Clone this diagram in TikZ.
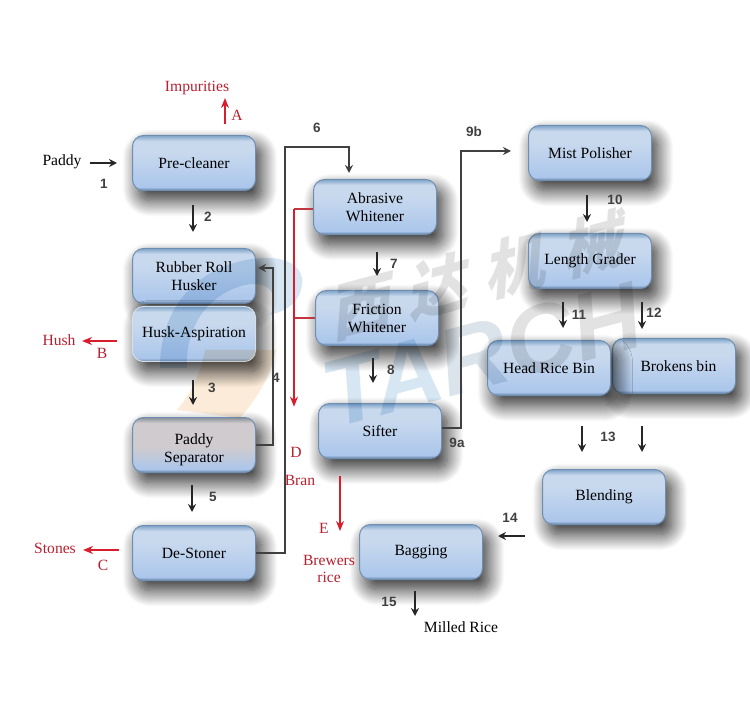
\documentclass[tikz,border=0pt]{standalone}
\usepackage{fontspec}
\setmainfont{Liberation Serif}
\newfontfamily\numfont{Liberation Sans}
\newfontfamily\cjkfont{Noto Sans CJK SC}
\usepackage{xcolor}
\usetikzlibrary{arrows.meta, calc, shadows.blur}
\definecolor{boxedge}{HTML}{6F8FB2}
\definecolor{boxrim}{HTML}{7FA3C8}
\definecolor{boxfoot}{HTML}{5E7D9E}
\definecolor{boxhigh}{HTML}{C8D9EE}
\definecolor{boxlow}{HTML}{ABC6EB}
\definecolor{sephigh}{HTML}{CFCBCF}
\definecolor{seprim}{HTML}{8A9098}
\definecolor{ricered}{HTML}{B5202F}
\definecolor{arrowred}{HTML}{D81E2C}
\definecolor{logoblue}{HTML}{D6E6F3}
\definecolor{logopeach}{HTML}{FBEBD8}
\definecolor{markgray}{HTML}{E2E2E2}
\pgfdeclareverticalshading{stagefill}{100bp}{color(0bp)=(boxfoot); color(25bp)=(boxfoot);
  color(28bp)=(boxlow); color(60bp)=(boxhigh); color(70bp)=(boxhigh); color(75bp)=(boxrim); color(100bp)=(boxrim)}
\pgfdeclareverticalshading{sepfill}{100bp}{color(0bp)=(boxfoot); color(25bp)=(boxfoot);
  color(28bp)=(boxlow); color(48bp)=(sephigh); color(70bp)=(sephigh); color(75bp)=(seprim); color(100bp)=(seprim)}
\begin{document}
\begin{tikzpicture}[
  x=1pt, y=-1pt,
  >=Stealth,
  stage/.style={rectangle, rounded corners=11pt, draw=boxedge, line width=1pt,
                shading=stagefill, text=black,
                font=\fontsize{15.6}{18}\selectfont, align=center,
                minimum width=123pt, minimum height=55pt, inner sep=1pt,
                blur shadow={shadow xshift=6pt, shadow yshift=-10pt,
                             shadow blur radius=16pt, shadow blur steps=24, shadow opacity=85}},
  sepstage/.style={stage, shading=sepfill},
  steplabel/.style={font=\fontsize{13.5}{14}\numfont\bfseries, text=black!75},
  outname/.style={font=\fontsize{15.6}{17.5}\selectfont, text=ricered, align=center, inner sep=0pt},
  inname/.style={font=\fontsize{15.6}{17.5}\selectfont, text=black, inner sep=0pt},
  flow/.style={-{Stealth[length=8pt, width=8pt]}, line width=1.5pt, black!85},
  pipehead/.style={-{Stealth[length=8pt, width=8pt]}, line width=1.2pt, black!75},
  waste/.style={-{Stealth[length=10pt, width=8pt]}, line width=1.5pt, arrowred},
  bleed/.style={line width=1.2pt, arrowred!75!gray}
]
\useasboundingbox (0,0) rectangle (750,719);

\node[stage] (pre) at (194,163) {Pre-cleaner};
\node[stage] (husker) at (194,276) {Rubber Roll\\Husker};
\node[stage, draw=white!70!boxedge] (aspir) at (194,334) {Husk-Aspiration};
\node[sepstage] (sep) at (194,445) {\rule{0pt}{20pt}Paddy\\Separator};
\node[stage] (stoner) at (194,553) {De-Stoner};
\node[stage] (abr) at (375,207) {Abrasive\\Whitener};
\node[stage] (fric) at (377,318) {Friction\\Whitener};
\node[stage] (sift) at (380,431) {Sifter};
\node[stage] (mist) at (590,153) {Mist Polisher};
\node[stage] (grader) at (590,261) {Length Grader};
\node[stage] (brokens) at (674,366) {\hspace*{9pt}Brokens bin};
\node[stage] (head) at (549,368) {Head Rice Bin};
\node[stage] (blend) at (604,497) {Blending};
\node[stage] (bag) at (421,552) {Bagging};

% faint mark over the boxes
\begin{scope}[blend mode=multiply]
\fill[logoblue] (160,368) .. controls (160,300) and (205,262) .. (262,258)
  .. controls (290,256) and (305,270) .. (302,285) .. controls (300,300) and (290,310) .. (270,315)
  .. controls (280,295) and (270,280) .. (245,285) .. controls (205,295) and (185,330) .. (187,368) -- cycle;
\fill[logopeach] (205,350) -- (276,350) .. controls (270,380) and (255,400) .. (240,418)
  -- (177,410) .. controls (190,395) and (200,375) .. (205,350) -- cycle;
\node[rotate=15, xslant=.35, inner sep=0pt, text=markgray, font=\fontsize{62}{62}\cjkfont\bfseries]
  (markcn) at (480,275) {西\hspace{18pt}达\hspace{18pt}机\hspace{18pt}械};
\node[rotate=15, inner sep=0pt, font=\fontsize{95}{95}\numfont\bfseries\itshape] (marken) at (482,355)
  {\textcolor{logoblue}{TA}\textcolor{logoblue!50!markgray}{R}\textcolor{markgray}{CH}};
\end{scope}

% inputs and products
\node[inname] (paddy) at (62,162) {Paddy};
\node[outname] (impur) at (197,88) {Impurities};
\node[outname] (hush) at (59,340) {Hush};
\node[outname] (stones) at (55,548) {Stones};
\node[outname] (bran) at (300,480) {Bran};
\node[outname] (brewers) at (329,569) {Brewers\\rice};
\node[inname] (milled) at (461,627) {Milled Rice};

% main line
\draw[flow] ($(pre.west)+(-42,0)$) -- ($(pre.west)+(-15,0)$);
\draw[flow] ($(pre.south)+(-1,14)$) -- ($(husker.north)+(-1,-16)$);
\draw[flow] ($(aspir.south)+(-1,18)$) -- ($(sep.north)+(-1,-12)$);
\draw[flow] ($(sep.south)+(-2,12)$) -- ($(stoner.north)+(-2,-13)$);
\draw[flow] ($(abr.south)+(2,17)$) -- ($(fric.north)+(0,-14)$);
\draw[flow] ($(fric.south)+(-4,12)$) -- ($(sift.north)+(-7,-20)$);
\draw[flow] ($(mist.south)+(-3,14)$) -- ($(grader.north)+(-3,-11)$);
\draw[flow] ($(grader.south)+(-27,13)$) -- ($(head.north)+(14,-12)$);
\draw[flow] ($(grader.south)+(52,13)$) -- ($(brokens.north)+(-32,-9)$);
\draw[flow] ($(head.south)+(33,30)$) -- ($(blend.north)+(-22,-17)$);
\draw[flow] ($(brokens.south)+(-32,32)$) -- ($(blend.north)+(38,-17)$);
\draw[flow] ($(blend.west)+(-17,39)$) -- ($(bag.east)+(15,-16)$);
\draw[flow] ($(bag.south)+(-6,11)$) -- ($(bag.south)+(-6,36)$);

% pipes between the two columns
\draw[pipehead] (sep.east) -| ($(husker.east)+(17,-8)$) -- ($(husker.east)+(2,-8)$);
\draw[pipehead] (stoner.east) -- ++(29,0) |- ($(abr.north)+(-26,-32)$) -- ($(abr.north)+(-26,-6)$);
\draw[pipehead] ($(sift.east)+(0,-3)$) -- ++(19,0) |- ($(mist.west)+(-17,-2)$);

% red side streams
\draw[waste] ($(pre.north)+(31,-11)$) -- ($(pre.north)+(31,-37)$);
\draw[waste] ($(aspir.west)+(-15,7)$) -- ($(aspir.west)+(-50,7)$);
\draw[waste] ($(stoner.west)+(-13,-3)$) -- ($(stoner.west)+(-49,-3)$);
\draw[bleed] ($(abr.west)+(0,2)$) -- ++(-19,0) coordinate (bleedtop);
\draw[bleed] (fric.west) -- ++(-21,0);
\draw[waste] (bleedtop) -- ($(bran.north)+(-6,-68)$);
\draw[waste] ($(sift.south)+(-40,17)$) -- ($(sift.south)+(-40,72)$);

% step numbers
\node[steplabel] (n1) at (104,184) {1};
\node[steplabel] (n2) at (208,217) {2};
\node[steplabel] (n3) at (212,388) {3};
\node[steplabel] (n4) at (276,378) {4};
\node[steplabel] (n5) at (213,497) {5};
\node[steplabel] (n6) at (317,128) {6};
\node[steplabel] (n7) at (394,264) {7};
\node[steplabel] (n8) at (391,370) {8};
\node[steplabel] (n9a) at (457,443) {9a};
\node[steplabel] (n9b) at (474,132) {9b};
\node[steplabel] (n10) at (615,200) {10};
\node[steplabel] (n11) at (579,315) {11};
\node[steplabel] (n12) at (654,313) {12};
\node[steplabel] (n13) at (608,437) {13};
\node[steplabel] (n14) at (510,518) {14};
\node[steplabel] (n15) at (389,602) {15};

% stream letters
\node[outname] (la) at (237,115) {A};
\node[outname] (lb) at (102,353) {B};
\node[outname] (lc) at (103,565) {C};
\node[outname] (ld) at (296,452) {D};
\node[outname] (le) at (324,528) {E};

\end{tikzpicture}
\end{document}
